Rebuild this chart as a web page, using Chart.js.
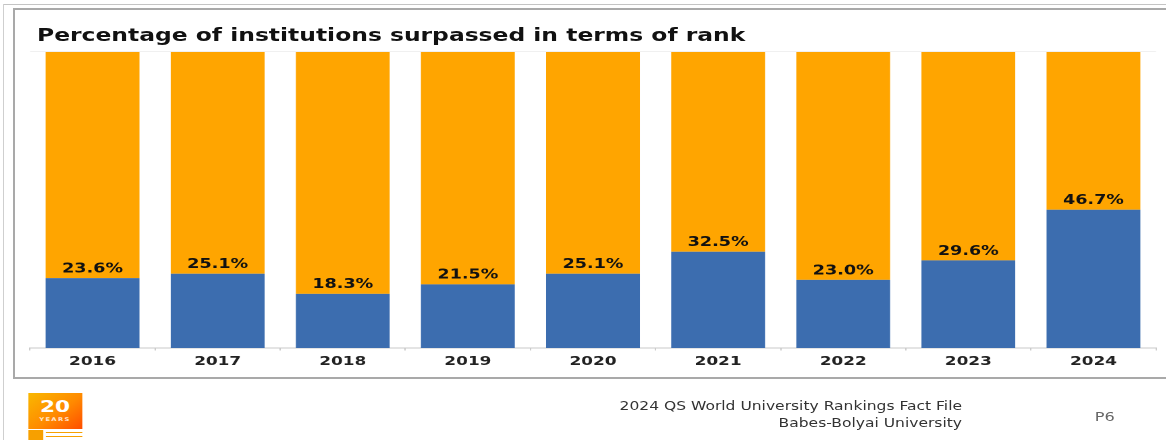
<!DOCTYPE html>
<html>
<head>
<meta charset="utf-8">
<script src="https://cdn.jsdelivr.net/npm/chart.js@4/dist/chart.umd.min.js"></script>
<style>
  html, body { margin: 0; padding: 0; background: #fff; }
  body { width: 1166px; height: 440px; position: relative; overflow: hidden; font-family: "DejaVu Sans", Verdana, sans-serif; }
  .frame { position: absolute; }
  #stage { position: absolute; left: 0; top: 0; width: 864px; height: 440px; transform: scaleX(1.35); transform-origin: 0 0; }
  #title { position: absolute; left: 27.4px; top: 24.6px; line-height: 20px; font-size: 17.35px; font-weight: bold; color: #111; white-space: nowrap; }
  #foot { position: absolute; right: 151.4px; top: 398px; font-size: 11.5px; line-height: 17px; color: #333; text-align: right; white-space: nowrap; }
  #page { position: absolute; left: 811px; top: 409px; font-size: 12px; line-height: 16px; color: #666; }
  #logo { position: absolute; left: 20.7px; top: 393px; width: 40px; height: 36px; background: linear-gradient(135deg, #f9b800 0%, #ff8a00 55%, #ff4d00 100%); color: #fff; text-align: center; font-weight: bold; }
  #logo .n { font-size: 16px; line-height: 16px; padding-top: 6px; }
  #logo .y { font-size: 5px; line-height: 8px; letter-spacing: 1px; opacity: .8; }
  #logostrip { position: absolute; left: 20.7px; top: 430px; width: 40px; height: 10px; background: #fff; }
  #logostrip .q { position: absolute; left: 0; top: 0; width: 11px; height: 10px; background: #f7a000; }
  #logostrip .l1 { position: absolute; left: 13px; top: 2px; width: 27px; height: 1px; background: #f7a000; }
  #logostrip .l2 { position: absolute; left: 13px; top: 6px; width: 27px; height: 1px; background: #f7a000; }
  canvas#c { position: absolute; left: 0; top: 0; }
</style>
</head>
<body>
<div class="frame" style="left:3px;top:4px;width:1163px;height:1px;background:#c4c4c4"></div>
<div class="frame" style="left:3px;top:4px;width:1px;height:436px;background:#cfcfcf"></div>
<div class="frame" style="left:13px;top:8px;width:1153px;height:2px;background:#a9a9a9"></div>
<div class="frame" style="left:13px;top:8px;width:2px;height:371px;background:#a9a9a9"></div>
<div class="frame" style="left:13px;top:377px;width:1153px;height:2px;background:#a9a9a9"></div>

<div id="stage">
  <canvas id="c" width="864" height="440"></canvas>
  <div id="title">Percentage of institutions surpassed in terms of rank</div>
  <div id="foot">2024 QS World University Rankings Fact File<br>Babes-Bolyai University</div>
  <div id="page">P6</div>
  <div id="logo"><div class="n">20</div><div class="y">YEARS</div></div>
  <div id="logostrip"><div class="q"></div><div class="l1"></div><div class="l2"></div></div>
</div>

<script>
const years = ["2016", "2017", "2018", "2019", "2020", "2021", "2022", "2023", "2024"];
const surpassed = [23.6, 25.1, 18.3, 21.5, 25.1, 32.5, 23.0, 29.6, 46.7];
const remainder = [76.4, 74.9, 81.7, 78.5, 74.9, 67.5, 77.0, 70.4, 53.3];
const valueLabels = ["23.6%", "25.1%", "18.3%", "21.5%", "25.1%", "32.5%", "23.0%", "29.6%", "46.7%"];

const topLine = {
  id: 'topLine',
  beforeDatasetsDraw(chart) {
    const ctx = chart.ctx, a = chart.chartArea, y = chart.scales.y.getPixelForValue(100);
    ctx.save();
    ctx.strokeStyle = '#f0f0f0';
    ctx.lineWidth = 1;
    ctx.beginPath();
    ctx.moveTo(a.left, Math.round(y) - 0.5);
    ctx.lineTo(a.right, Math.round(y) - 0.5);
    ctx.stroke();
    ctx.restore();
  }
};

const barLabels = {
  id: 'barLabels',
  afterDatasetsDraw(chart) {
    const ctx = chart.ctx;
    const meta = chart.getDatasetMeta(0);
    ctx.save();
    ctx.font = 'bold 13px "DejaVu Sans", Verdana, sans-serif';
    ctx.fillStyle = '#111';
    ctx.textAlign = 'center';
    ctx.textBaseline = 'middle';
    meta.data.forEach((bar, i) => {
      ctx.fillText(valueLabels[i], bar.x, bar.y - 9);
    });
    ctx.restore();
  }
};

new Chart(document.getElementById('c'), {
  type: 'bar',
  data: {
    labels: years,
    datasets: [
      { data: surpassed, backgroundColor: '#3c6daf', borderWidth: 0, barPercentage: 0.75, categoryPercentage: 1.0 },
      { data: remainder, backgroundColor: '#ffa500', borderWidth: 0, barPercentage: 0.75, categoryPercentage: 1.0 }
    ]
  },
  options: {
    responsive: false,
    animation: false,
    devicePixelRatio: 2,
    layout: { padding: { left: 22.2, right: 7.7, top: 52, bottom: 62 } },
    plugins: { legend: { display: false }, tooltip: { enabled: false }, title: { display: false } },
    scales: {
      x: {
        stacked: true,
        afterFit(scale) { scale.height = 30; },
        border: { display: true, color: '#c8c8c8', dash: [2, 2] },
        grid: { drawOnChartArea: false, drawTicks: true, tickLength: 4, color: '#cccccc', tickBorderDash: [2, 2] },
        ticks: { padding: 2, color: '#222', font: { family: '"DejaVu Sans", Verdana, sans-serif', size: 12.5, weight: 'bold' } }
      },
      y: { stacked: true, display: false, min: 0, max: 100 }
    }
  },
  plugins: [topLine, barLabels]
});
</script>
</body>
</html>
